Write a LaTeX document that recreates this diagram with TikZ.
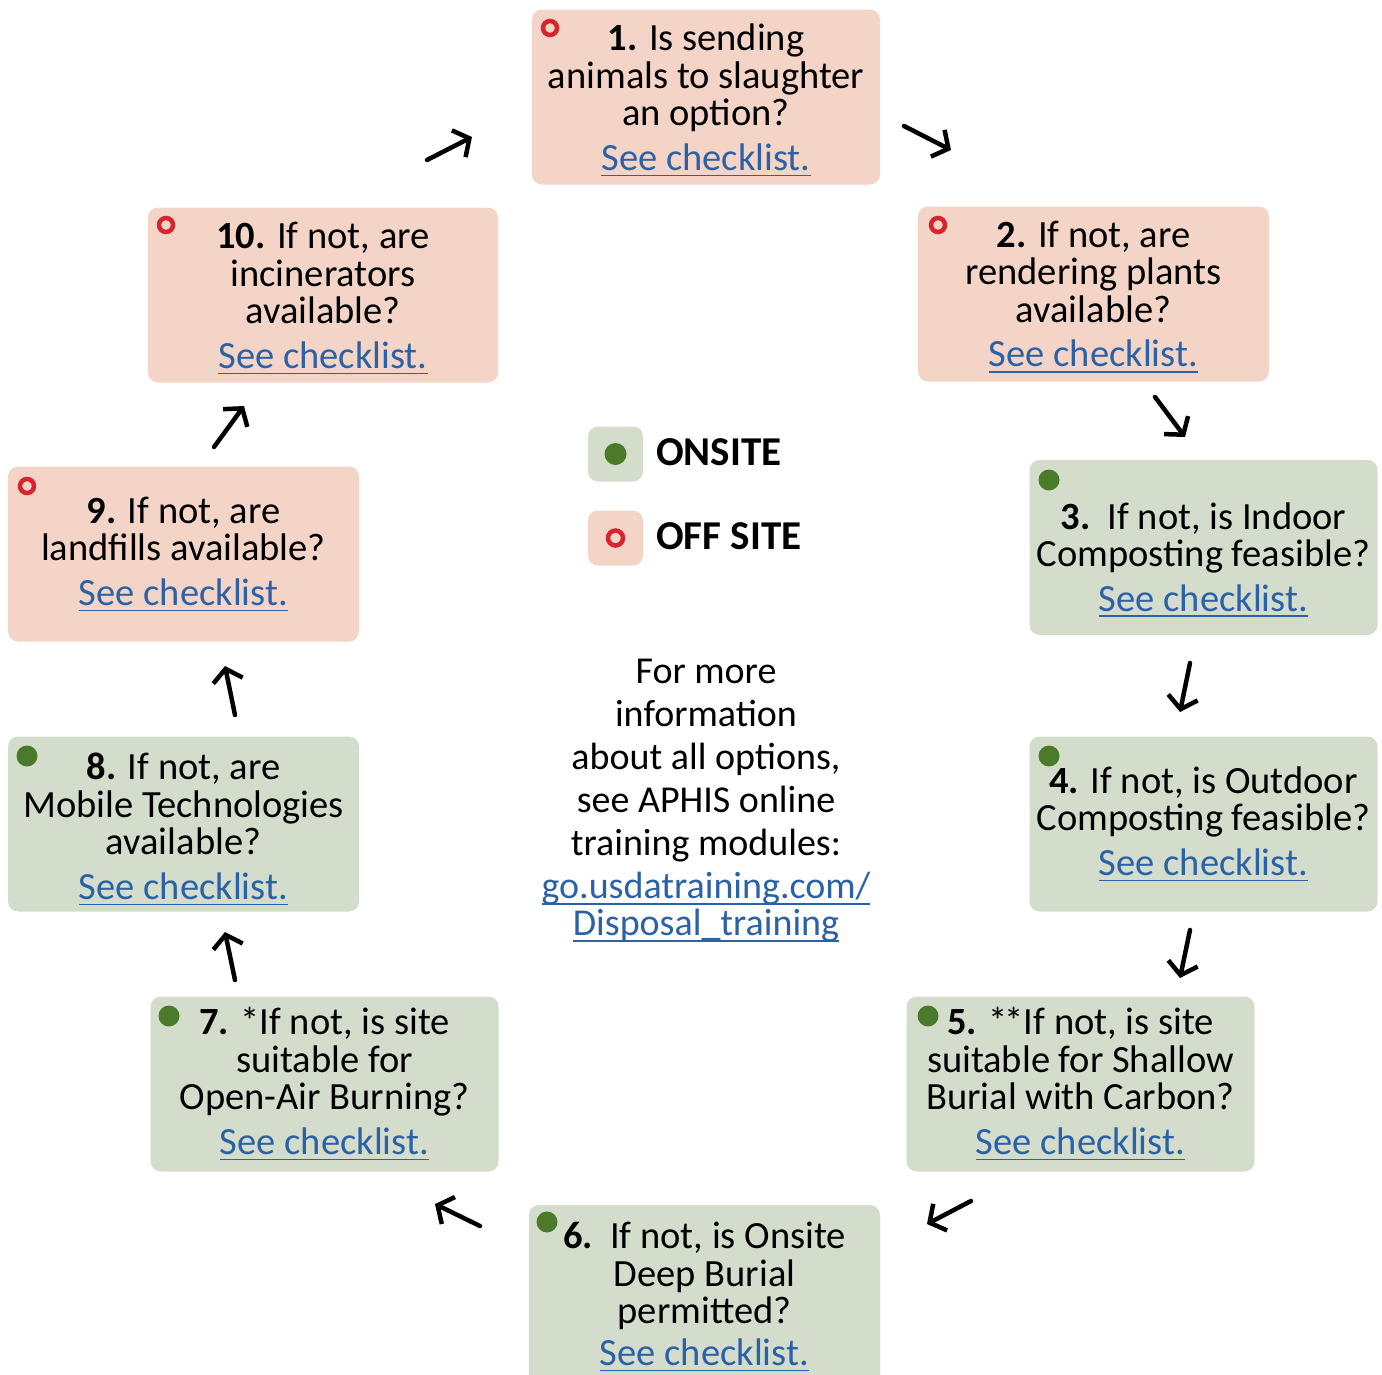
\documentclass[tikz,border=0pt]{standalone}
\usepackage{fontspec}
\setmainfont{Carlito}
\usetikzlibrary{arrows.meta}
\definecolor{onfill}{HTML}{D4DDCB}
\definecolor{offfill}{HTML}{F4D4C6}
\definecolor{ongreen}{HTML}{4B7A2B}
\definecolor{offred}{HTML}{D7252E}
\definecolor{linkblue}{HTML}{2B62A7}
\newcommand{\linkline}[1]{\textcolor{linkblue}{\setbox0\hbox{#1}\rlap{\rule[-6pt]{\wd0}{1.6pt}}\box0}}
\newcommand{\chk}{\linkline{See checklist.}}
\newcommand{\topgap}[1]{\rule{0pt}{#1}}
\tikzset{
  box/.style={rounded corners=10pt, minimum width=348pt, minimum height=175pt, align=center, inner sep=0pt, font=\fontsize{38.5}{37.5}\selectfont},
  onbox/.style={box, fill=onfill},
  offbox/.style={box, fill=offfill},
  ondot/.style={circle, fill=ongreen, minimum size=21pt, inner sep=0pt},
  offdot/.style={circle, draw=offred, line width=4.5pt, minimum size=14pt, inner sep=0pt},
  key/.style={rounded corners=10pt, minimum size=55pt, inner sep=0pt},
  keytext/.style={anchor=base west, inner sep=0pt, font=\fontsize{41}{45}\selectfont\bfseries},
  info/.style={align=center, inner sep=0pt, font=\fontsize{38}{43}\selectfont},
  flow/.style={line width=4.5pt, line cap=round, line join=round, -{Straight Barb[length=12pt,width=30pt]}},
}
\begin{document}
\begin{tikzpicture}[x=1pt,y=-1pt]
  \useasboundingbox (0,0) rectangle (1382,1374);
  \node[offbox] (b1) at (706,97) {\topgap{33pt}\textbf{1.} Is sending\\animals to slaughter\\an option?\\[7pt]\chk};
  \node[offbox,minimum width=351pt] (b2) at (1093.5,294) {\topgap{32pt}\textbf{2.} If not, are\\rendering plants\\available?\\[7pt]\chk};
  \node[onbox] (b3) at (1203.5,547.5) {\topgap{51pt}\textbf{3.}\ \ If not, is Indoor\\Composting feasible?\\[7pt]\chk};
  \node[onbox] (b4) at (1203.5,824) {\textbf{4.} If not, is Outdoor\\Composting feasible?\\[7pt]\chk};
  \node[onbox] (b5) at (1080.5,1084) {\textbf{5.} *\kern-3pt*If not, is site\\suitable for Shallow\\Burial with Carbon?\\[7pt]\chk};
  \node[onbox,minimum width=351pt,minimum height=180pt] (b6) at (704.5,1295) {\topgap{30pt}\textbf{6.}\ \ If not, is Onsite\\Deep Burial\\permitted?\\[4pt]\chk};
  \node[onbox] (b7) at (324.5,1084) {\textbf{7.} *If not, is site\\suitable for\\Open-Air Burning?\\[7pt]\chk};
  \node[onbox,minimum width=351pt] (b8) at (183.5,824) {\topgap{37pt}\textbf{8.} If not, are\\Mobile Technologies\\available?\\[7pt]\chk};
  \node[offbox,minimum width=351pt] (b9) at (183.5,554) {\textbf{9.} If not, are\\landfills available?\\[7pt]\chk};
  \node[offbox,minimum width=350pt] (b10) at (323,295) {\topgap{33pt}\textbf{10.} If not, are\\incinerators\\available?\\[7pt]\chk};
  \node[offdot] (m1) at (550,28) {};
  \node[offdot] (m2) at (938,225) {};
  \node[ondot] (m3) at (1049,480) {};
  \node[ondot] (m4) at (1049,756) {};
  \node[ondot] (m5) at (928,1016) {};
  \node[ondot] (m6) at (547,1222) {};
  \node[ondot] (m7) at (169,1016) {};
  \node[ondot] (m8) at (27,756) {};
  \node[offdot] (m9) at (27,486) {};
  \node[offdot] (m10) at (166,225) {};
  \node[key,fill=onfill] (kon) at (615.5,454) {};
  \node[ondot,minimum size=22pt] at (kon) {};
  \node[keytext] (lon) at (656,465) {ONSITE};
  \node[key,fill=offfill] (koff) at (615.5,538) {};
  \node[offdot,minimum size=15pt] at (koff) {};
  \node[keytext] (loff) at (656,549) {OFF SITE};
  \node[info] (more) at (706,801) {For more\\information\\about all options,\\see APHIS online\\training modules:\\\linkline{go.usdatraining.com/}\\[-6pt]\linkline{Disposal\_training}};
  \foreach \i/\sx/\sy/\ex/\ey in {1/427/160/472/137, 2/904/126/951/150, 3/1155/397/1185/437, 4/1190/663/1180/712, 5/1190/930/1180/978, 6/971/1201/927/1224, 7/480/1226/435/1204, 8/235/980/225/932, 9/235/715/225/666, 10/214/447/244/406} {
    \coordinate (s\i) at (\sx,\sy);
    \coordinate (e\i) at (\ex,\ey);
    \draw[flow] (s\i) -- (e\i);
  }
\end{tikzpicture}
\end{document}
